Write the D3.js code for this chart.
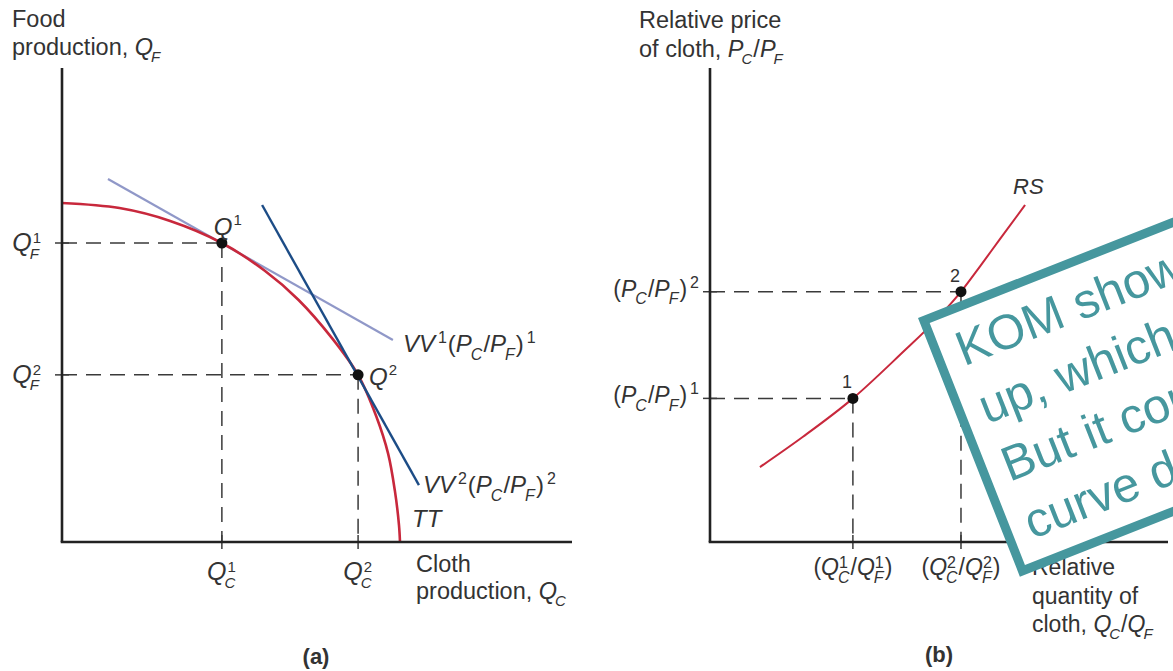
<!DOCTYPE html>
<html>
<head>
<meta charset="utf-8">
<script src="https://cdn.jsdelivr.net/npm/d3@7"></script>
<style>
  body { margin: 0; background: #fff; }
  svg { display: block; font-family: "Liberation Sans", Arial, Helvetica, sans-serif; }
  text { fill: #333; white-space: pre; }
</style>
</head>
<body>
<svg id="chart" width="1173" height="671"></svg>
<script>
// ---- panel (a): production possibility frontier ----
const ttCurve = [
  [0, 1.0], [0.17, 0.985], [0.32, 0.947], [0.473, 0.882], [0.6, 0.8],
  [0.7, 0.714], [0.8, 0.6], [0.876, 0.493], [0.93, 0.37], [0.965, 0.26],
  [0.985, 0.15], [0.997, 0.05], [1.0, 0]
];
const vv1Line = [[0.136, 1.071], [0.979, 0.596]];
const vv2Line = [[0.592, 0.994], [1.056, 0.168]];
const prodPoints = [
  { sup: "1", x: 0.473, y: 0.882 },
  { sup: "2", x: 0.876, y: 0.493 }
];

// ---- panel (b): relative supply curve ----
const rsCurve = [
  [1.09, 1.58], [2.03, 2.22], [3.12, 3.03], [4.15, 3.95], [5.02, 4.77],
  [5.48, 5.28], [5.9, 5.82], [6.33, 6.39], [6.88, 7.11]
];
const rsPoints = [
  { sup: "1", x: 3.12, y: 3.03 },
  { sup: "2", x: 5.48, y: 5.28 }
];

const noteLines = [
  "KOM shows relative supply",
  "up, which raises the price.",
  "But it could also shift the",
  "curve down."
];

const svg = d3.select("#chart");
const ink = "#222";
const red = "#c8283c";
const teal = "#46979e";

const xA = d3.scaleLinear().domain([0, 1]).range([62, 400]);
const yA = d3.scaleLinear().domain([0, 1]).range([542, 203]);
const xB = d3.scaleLinear().domain([0, 10]).range([710, 1168]);
const yB = d3.scaleLinear().domain([0, 10]).range([542, 68]);

const I = (t) => ({ t, it: true });
const R = (t) => ({ t });
const S = (sub, sup) => ({ sub, sup });

// lays out text with italic letters and stacked sub/superscripts
function mathText(parent, x, y, parts, o = {}) {
  const size = o.size || 23.5;
  const small = o.small || 15;
  const supGap = o.supGap !== undefined ? o.supGap : 1;
  const subGap = o.subGap !== undefined ? o.subGap : -2;
  const g = parent.append("g");
  let cx = 0;
  for (const p of parts) {
    if (p.t !== undefined) {
      const el = g.append("text")
        .attr("xml:space", "preserve")
        .attr("x", cx).attr("y", 0)
        .style("font-size", size + "px")
        .style("font-style", p.it ? "italic" : "normal")
        .style("font-weight", o.bold ? "bold" : "normal")
        .text(p.t);
      cx += el.node().getComputedTextLength();
    } else {
      let w = 0;
      if (p.sup) {
        const el = g.append("text")
          .attr("x", cx + supGap).attr("y", -size * (o.raise || 0.32))
          .style("font-size", small + "px")
          .text(p.sup);
        w = Math.max(w, el.node().getComputedTextLength() + supGap + 1);
      }
      if (p.sub) {
        const el = g.append("text")
          .attr("x", cx + subGap).attr("y", size * (o.drop || 0.3))
          .style("font-size", small + "px")
          .style("font-style", "italic")
          .text(p.sub);
        w = Math.max(w, el.node().getComputedTextLength() + subGap + 1);
      }
      cx += w;
    }
  }
  const shift = o.anchor === "end" ? -cx : o.anchor === "middle" ? -cx / 2 : 0;
  g.attr("transform", `translate(${x + shift},${y})`);
  return g;
}

function dashed(parent, x1, y1, x2, y2) {
  parent.append("line")
    .attr("x1", x1).attr("y1", y1).attr("x2", x2).attr("y2", y2)
    .attr("stroke", "#3a3a3a").attr("stroke-width", 1.5)
    .attr("stroke-dasharray", "15,9");
}

function tick(parent, x1, y1, x2, y2) {
  parent.append("line")
    .attr("x1", x1).attr("y1", y1).attr("x2", x2).attr("y2", y2)
    .attr("stroke", "#3a3a3a").attr("stroke-width", 1.5);
}

// ================= panel (a) =================
const a = svg.append("g");

prodPoints.forEach((p) => {
  dashed(a, xA(0), yA(p.y), xA(p.x), yA(p.y));
  dashed(a, xA(p.x), yA(p.y), xA(p.x), yA(0));
  tick(a, xA(0) - 7, yA(p.y), xA(0) + 7, yA(p.y));
  tick(a, xA(p.x), yA(0) - 7, xA(p.x), yA(0) + 7);
});

const lineA = d3.line().x((d) => xA(d[0])).y((d) => yA(d[1]));

a.append("path").datum(vv1Line).attr("d", lineA)
  .attr("fill", "none").attr("stroke", "#9098c8").attr("stroke-width", 2.2);
a.append("path").datum(ttCurve).attr("d", lineA.curve(d3.curveCatmullRom.alpha(0.5)))
  .attr("fill", "none").attr("stroke", red).attr("stroke-width", 2.6);
lineA.curve(d3.curveLinear);
a.append("path").datum(vv2Line).attr("d", lineA)
  .attr("fill", "none").attr("stroke", "#1c4c86").attr("stroke-width", 2.4);

// axes
a.append("line").attr("x1", xA(0)).attr("y1", 68).attr("x2", xA(0)).attr("y2", yA(0))
  .attr("stroke", ink).attr("stroke-width", 2.6);
a.append("line").attr("x1", xA(0) - 1.3).attr("y1", yA(0)).attr("x2", 572).attr("y2", yA(0))
  .attr("stroke", ink).attr("stroke-width", 2.6);

a.selectAll("circle.pt").data(prodPoints).join("circle")
  .attr("class", "pt")
  .attr("cx", (d) => xA(d.x)).attr("cy", (d) => yA(d.y)).attr("r", 5.5)
  .attr("fill", "#111");

// labels
prodPoints.forEach((p, i) => {
  mathText(a, xA(0) - 20, yA(p.y) + 8, [I("Q"), S("F", p.sup)], { anchor: "end", size: 25 });
  mathText(a, xA(p.x), yA(0) + 38, [I("Q"), S("C", p.sup)], { anchor: "middle", size: 25 });
  if (i === 0) {
    mathText(a, xA(p.x) - 8, yA(p.y) - 8, [I("Q"), S(null, p.sup)], { size: 24, raise: 0.4 });
  } else {
    mathText(a, xA(p.x) + 11, yA(p.y) + 10, [I("Q"), S(null, p.sup)], { size: 24, raise: 0.4 });
  }
});

const vvOpts = { size: 24, small: 16, raise: 0.38, drop: 0.33, supGap: 3, subGap: -1 };
mathText(a, xA(vv1Line[1][0]) + 10, yA(vv1Line[1][1]) + 12,
  [I("VV"), S(null, "1"), R("("), I("P"), S("C"), R("/"), I("P"), S("F"), R(")"), S(null, "1")],
  vvOpts);
mathText(a, xA(vv2Line[1][0]) + 4, yA(vv2Line[1][1]) + 8,
  [I("VV"), S(null, "2"), R("("), I("P"), S("C"), R("/"), I("P"), S("F"), R(")"), S(null, "2")],
  vvOpts);
mathText(a, xA(1) + 12, yA(0) - 15, [I("TT")], { size: 24 });

mathText(a, 12, 27, [R("Food")]);
mathText(a, 12, 55, [R("production, "), I("Q"), S("F")]);
mathText(a, 416, 572, [R("Cloth")]);
mathText(a, 416, 599, [R("production, "), I("Q"), S("C")]);
mathText(a, 316, 664, [R("(a)")], { anchor: "middle", bold: true, size: 22 });

// ================= panel (b) =================
const b = svg.append("g");

rsPoints.forEach((p) => {
  dashed(b, xB(0), yB(p.y), xB(p.x), yB(p.y));
  dashed(b, xB(p.x), yB(p.y), xB(p.x), yB(0));
  tick(b, xB(0) - 7, yB(p.y), xB(0) + 7, yB(p.y));
  tick(b, xB(p.x), yB(0) - 7, xB(p.x), yB(0) + 7);
});

const lineB = d3.line().x((d) => xB(d[0])).y((d) => yB(d[1])).curve(d3.curveMonotoneX);
b.append("path").datum(rsCurve).attr("d", lineB)
  .attr("fill", "none").attr("stroke", red).attr("stroke-width", 2);

b.append("line").attr("x1", xB(0)).attr("y1", 68).attr("x2", xB(0)).attr("y2", yB(0))
  .attr("stroke", ink).attr("stroke-width", 2.6);
b.append("line").attr("x1", xB(0) - 1.3).attr("y1", yB(0)).attr("x2", 1168).attr("y2", yB(0))
  .attr("stroke", ink).attr("stroke-width", 2.6);

b.selectAll("circle.pt").data(rsPoints).join("circle")
  .attr("class", "pt")
  .attr("cx", (d) => xB(d.x)).attr("cy", (d) => yB(d.y)).attr("r", 5.5)
  .attr("fill", "#111");

rsPoints.forEach((p) => {
  mathText(b, xB(p.x) - 6, yB(p.y) - 10, [R(p.sup)], { anchor: "middle", size: 18 });
  mathText(b, xB(0) - 10, yB(p.y) + 5,
    [R("("), I("P"), S("C"), R("/"), I("P"), S("F"), R(")"), S(null, p.sup)],
    { anchor: "end", size: 23, small: 16, raise: 0.4, drop: 0.33, supGap: 3, subGap: -1 });
  mathText(b, xB(p.x), yB(0) + 33,
    [R("("), I("Q"), S("C", p.sup), R("/"), I("Q"), S("F", p.sup), R(")")],
    { anchor: "middle", size: 23, small: 16, raise: 0.3, drop: 0.33, supGap: 0, subGap: -1 });
});

mathText(b, xB(rsCurve[rsCurve.length - 1][0]) - 12, yB(rsCurve[rsCurve.length - 1][1]) - 11,
  [I("RS")], { size: 22 });

mathText(b, 639, 28, [R("Relative price")]);
mathText(b, 639, 57, [R("of cloth, "), I("P"), S("C"), R("/"), I("P"), S("F")]);
mathText(b, 1032, 575, [R("Relative")], { size: 23 });
mathText(b, 1032, 604, [R("quantity of")], { size: 23 });
mathText(b, 1032, 632, [R("cloth, "), I("Q"), S("C"), R("/"), I("Q"), S("F")], { size: 23 });
mathText(b, 939, 662, [R("(b)")], { anchor: "middle", bold: true, size: 22 });

// ---- rotated note box on top ----
const note = svg.append("g").attr("transform", "translate(918,318) rotate(-21.5)");
note.append("rect")
  .attr("x", 4.5).attr("y", 4.5).attr("width", 700).attr("height", 269)
  .attr("fill", "#fff").attr("stroke", teal).attr("stroke-width", 9);
note.selectAll("text").data(noteLines).join("text")
  .attr("x", 25).attr("y", (d, i) => 62 + i * 62)
  .style("font-size", "49px").style("fill", teal)
  .text((d) => d);
</script>
</body>
</html>
